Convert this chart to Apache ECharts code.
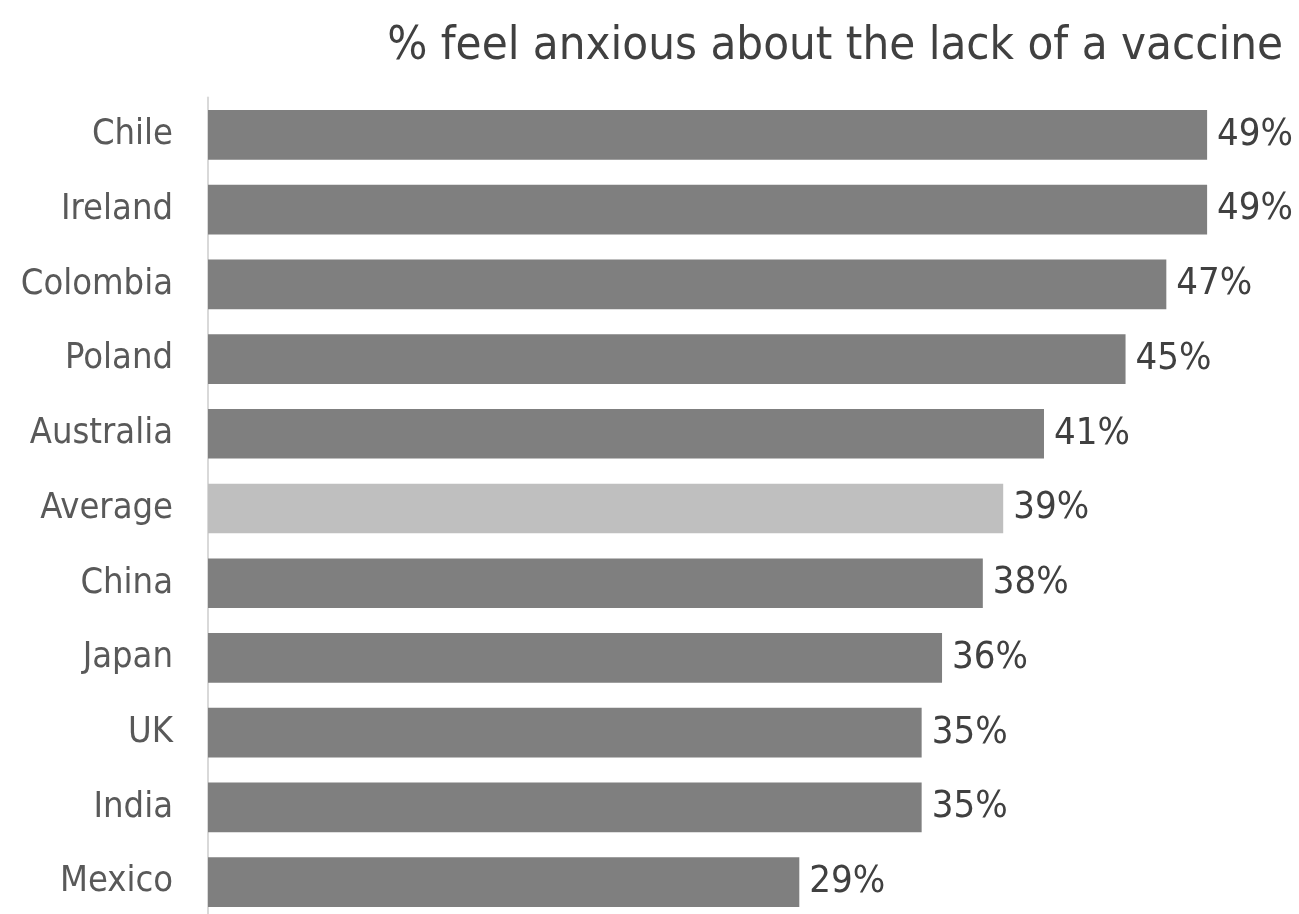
<!DOCTYPE html>
<html><head><meta charset="utf-8">
<script src="https://cdn.jsdelivr.net/npm/echarts@6/dist/echarts.min.js"></script>
<style>html,body{margin:0;padding:0;background:#fff;overflow:hidden}#c{width:1299px;height:920px}</style>
</head><body><div id="c"></div>
<script>
const titleText = '% feel anxious about the lack of a vaccine';
const categories = ['Chile','Ireland','Colombia','Poland','Australia','Average','China','Japan','UK','India','Mexico'];
const values = [49,49,47,45,41,39,38,36,35,35,29];
const highlight = 'Average';
const FONT = 'DejaVu Sans Condensed';
const chart = echarts.init(document.getElementById('c'));
chart.setOption({
  animation:false,
  backgroundColor:'#fff',
  title:{text:titleText,right:11,top:18,textStyle:{fontFamily:FONT,fontSize:47,fontWeight:'normal',color:'#404040'}},
  grid:{left:208,right:71.5,top:97.5,bottom:0.5,containLabel:false},
  xAxis:{type:'value',min:0,max:50,show:false},
  yAxis:{type:'category',data:categories,inverse:true,
    axisLine:{show:true,lineStyle:{color:'#d9d9d9',width:2}},
    axisTick:{show:false},
    axisLabel:{fontFamily:FONT,fontSize:36,color:'#595959',margin:35}},
  series:[{type:'bar',barCategoryGap:'33.5%',
    data:values.map((v,i)=>({value:v,itemStyle:{color:categories[i]===highlight?'#bfbfbf':'#7f7f7f'}})),
    label:{show:true,position:'right',distance:10,formatter:p=>p.value+'%',fontFamily:FONT,fontSize:38,color:'#404040'}}]
});
</script></body></html>
